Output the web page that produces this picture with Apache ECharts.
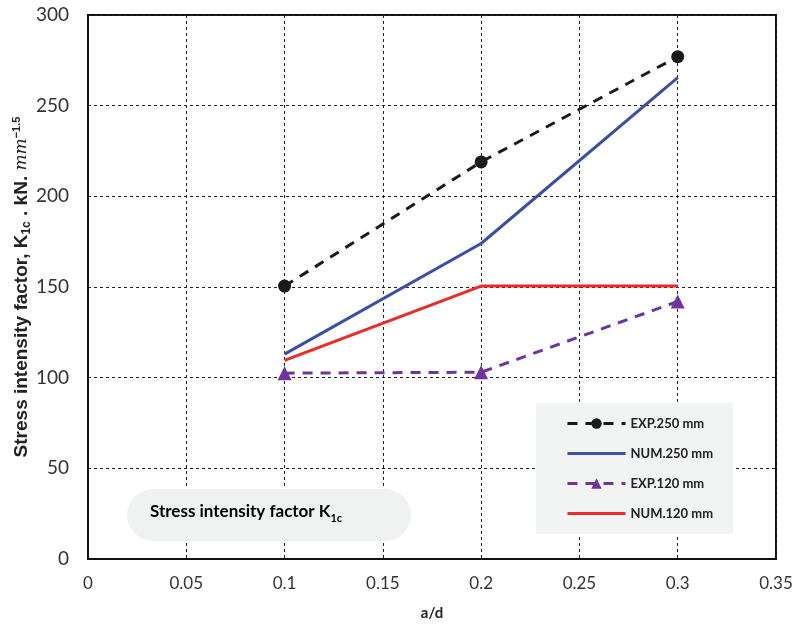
<!DOCTYPE html>
<html><head><meta charset="utf-8">
<script src="https://cdn.jsdelivr.net/npm/echarts@6/dist/echarts.min.js"></script>
<style>html,body{margin:0;padding:0;background:#fff}#c{width:796px;height:628px}</style>
</head><body><div id="c"></div>
<script>
const xValues = [0.1, 0.2, 0.3];
const exp250 = [150.5, 219, 277];
const num250 = [113, 174, 265.5];
const exp120 = [102.5, 103, 142];
const num120 = [109.5, 150.5, 150.5];
const xTicks = [0, 0.05, 0.1, 0.15, 0.2, 0.25, 0.3, 0.35];
const yTicks = [0, 50, 100, 150, 200, 250, 300];

const pairs = a => xValues.map((x, i) => [x, a[i]]);
const chart = echarts.init(document.getElementById('c'));
chart.setOption({
  animation: false,
  grid: { left: 88, right: 20, top: 15, bottom: 69, outerBoundsMode: 'none', containLabel: false, show: true, borderColor: '#111', borderWidth: 2, backgroundColor: 'transparent' },
  xAxis: {
    type: 'value', min: 0, max: 0.35, interval: 0.05,
    name: 'a/d', nameLocation: 'middle', nameGap: 47,
    nameTextStyle: { fontFamily: 'Lato', fontWeight: 'bold', fontSize: 15, color: '#222' },
    axisLine: { show: true, lineStyle: { color: '#111', width: 2 } },
    axisTick: { show: false },
    axisLabel: { fontFamily: 'Lato', fontSize: 17, color: '#333', margin: 16, formatter: v => String(+v.toFixed(2)) },
    splitLine: { show: true, lineStyle: { type: [3, 3], color: '#222', width: 1 } }
  },
  yAxis: {
    type: 'value', min: 0, max: 300, interval: 50,
    name: '{a|Stress intensity factor, K}{sub|1c}{a| . kN. }{i|mm}{sup|−1.5}',
    nameLocation: 'middle', nameGap: 55, nameRotate: 90, nameMoveOverlap: false,
    nameTextStyle: {
      rich: {
        a: { fontFamily: 'Liberation Sans', fontWeight: 'bold', fontSize: 19, color: '#222', lineHeight: 22, verticalAlign: 'middle' },
        sub: { fontFamily: 'Liberation Sans', fontWeight: 'bold', fontSize: 12, color: '#222', lineHeight: 22, verticalAlign: 'bottom', padding: [0, 0, 0, 0] },
        i: { fontFamily: 'DejaVu Serif', fontStyle: 'italic', fontSize: 17, color: '#222', lineHeight: 22, verticalAlign: 'middle' },
        sup: { fontFamily: 'Liberation Sans', fontWeight: 'bold', fontSize: 11, color: '#222', lineHeight: 22, verticalAlign: 'top', padding: [0, 0, 0, 0] }
      }
    },
    axisLine: { show: true, lineStyle: { color: '#111', width: 2 } },
    axisTick: { show: false },
    axisLabel: { fontFamily: 'Lato', fontSize: 19, color: '#333', margin: 19 },
    splitLine: { show: true, lineStyle: { type: [3, 3], color: '#222', width: 1 } }
  },
  legend: {
    orient: 'vertical', left: 536, top: 403, width: 218, height: 134,
    backgroundColor: '#f2f3f3', padding: [14, 20, 14, 30], itemGap: 17,
    itemWidth: 58, itemHeight: 13,
    lineStyle: { width: 3 },
    textStyle: { fontFamily: 'Lato', fontWeight: 'bold', fontSize: 13, color: '#222' },
    data: [
      { name: 'EXP.250 mm' },
      { name: 'NUM.250 mm', itemStyle: { opacity: 0 } },
      { name: 'EXP.120 mm' },
      { name: 'NUM.120 mm', itemStyle: { opacity: 0 } }
    ]
  },
  graphic: [{
    type: 'rect', left: 127, top: 489, shape: { width: 284, height: 52, r: 26 },
    style: { fill: '#f0f1f1' }, z: 10
  }, {
    type: 'text', left: 150, top: 503, z: 11,
    style: {
      text: '{a|Stress intensity factor K}{s|1c}',
      rich: {
        a: { fontFamily: 'Lato', fontWeight: 'bold', fontSize: 17, color: '#222', lineHeight: 24, verticalAlign: 'middle' },
        s: { fontFamily: 'Lato', fontWeight: 'bold', fontSize: 11, color: '#222', lineHeight: 24, verticalAlign: 'bottom' }
      }
    }
  }],
  series: [
    { name: 'EXP.250 mm', type: 'line', data: pairs(exp250), symbol: 'circle', symbolSize: 13,
      lineStyle: { color: '#1a1a1a', width: 3, type: [10, 8] }, itemStyle: { color: '#1a1a1a' } },
    { name: 'NUM.250 mm', type: 'line', data: pairs(num250), symbol: 'none', showSymbol: false,
      lineStyle: { color: '#3b4fa6', width: 3 }, itemStyle: { color: '#3b4fa6' } },
    { name: 'EXP.120 mm', type: 'line', data: pairs(exp120), symbol: 'triangle', symbolSize: 14,
      lineStyle: { color: '#7034a0', width: 3, type: [10, 8] }, itemStyle: { color: '#7034a0' } },
    { name: 'NUM.120 mm', type: 'line', data: pairs(num120), symbol: 'none', showSymbol: false,
      lineStyle: { color: '#ee2a2a', width: 3 }, itemStyle: { color: '#ee2a2a' } }
  ]
});
</script></body></html>
